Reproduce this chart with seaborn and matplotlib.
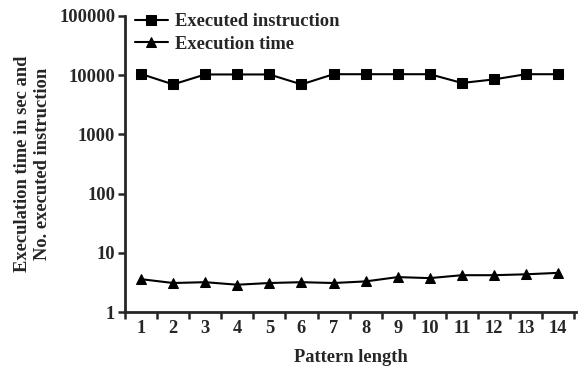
import numpy as np
import pandas as pd
from matplotlib import pyplot as plt
import seaborn as sns

# data
pattern_length = list(range(1, 15))
executed_instruction = [10500, 7000, 10300, 10300, 10300, 7000, 10400, 10400, 10400, 10400, 7400, 8500, 10400, 10400]
execution_time = [3.6, 3.1, 3.2, 2.9, 3.1, 3.2, 3.1, 3.3, 3.9, 3.75, 4.2, 4.2, 4.35, 4.6]
series_names = ["Executed instruction", "Execution time"]

df = pd.DataFrame({
    "x": pattern_length * 2,
    "y": executed_instruction + execution_time,
    "series": [series_names[0]] * 14 + [series_names[1]] * 14,
})

sns.set_style("ticks")
plt.rcParams["font.family"] = ["Liberation Serif", "DejaVu Serif"]
plt.rcParams["font.weight"] = "bold"
fs = 13.3

fig = plt.figure(figsize=(5.84, 3.72), dpi=100)
ax = fig.add_axes([0.214, 0.161, 0.772, 0.796])

sns.lineplot(data=df, x="x", y="y", hue="series", style="series",
             palette=["black", "black"], markers=["s", "^"], dashes=False,
             markersize=7.5, linewidth=1.5, markeredgecolor="black", ax=ax)

ax.set_yscale("log")
ax.set_ylim(1, 100000)
ax.set_xlim(0.5, 14.55)
ax.set_yticks([1, 10, 100, 1000, 10000, 100000])
ax.set_yticklabels(["1", "10", "100", "1000", "10000", "100000"])
ax.yaxis.set_minor_locator(plt.NullLocator())

# ticks between labels, labels at integers
ax.set_xticks(np.arange(0.5, 15, 1.0))
ax.set_xticklabels([])
ax.set_xticks(pattern_length, minor=True)
ax.set_xticklabels([str(v) for v in pattern_length], minor=True, fontsize=fs, fontweight="bold")
ax.tick_params(axis="x", which="minor", length=0, pad=6)
ax.tick_params(axis="x", which="major", length=5, width=1.8)
ax.tick_params(axis="y", which="major", length=5, width=1.8, labelsize=fs, pad=2)

for side in ["left", "bottom"]:
    ax.spines[side].set_linewidth(2)
sns.despine(ax=ax)

ax.set_xlabel("Pattern length", fontsize=fs, fontweight="bold", labelpad=8)
ax.set_ylabel("Execulation time in sec and\nNo. executed instruction", fontsize=fs,
              fontweight="bold", linespacing=1.25, labelpad=6)

leg = ax.legend(loc="upper left", frameon=False, fontsize=fs, handlelength=1.8,
                borderaxespad=0.0, bbox_to_anchor=(0.005, 1.035), labelspacing=0.3,
                handletextpad=0.4)
for t in leg.get_texts():
    t.set_fontweight("bold")

plt.savefig("out.png", dpi=100)
